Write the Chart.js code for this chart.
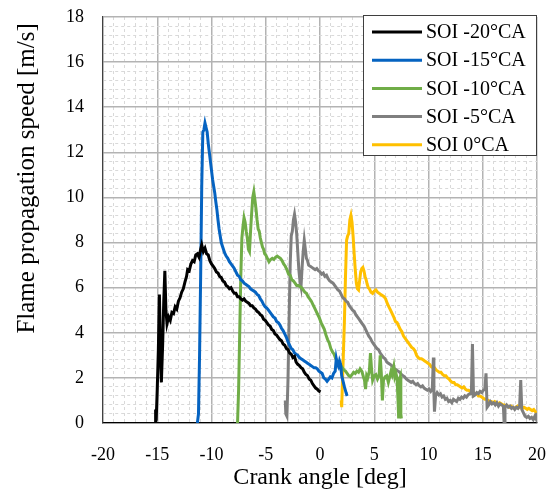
<!DOCTYPE html>
<html>
<head>
<meta charset="utf-8">
<script src="https://cdn.jsdelivr.net/npm/chart.js@4/dist/chart.umd.min.js"></script>
<style>
  html, body { margin: 0; padding: 0; background: #ffffff; }
  #wrap { width: 554px; height: 494px; }
</style>
</head>
<body>
<div id="wrap"><canvas id="chart" width="554" height="494"></canvas></div>
<script>
// Flame propagation speed vs crank angle for five start-of-injection timings

const seriesLabels = ['SOI -20°CA', 'SOI -15°CA', 'SOI -10°CA', 'SOI -5°CA', 'SOI 0°CA'];
const seriesColors = ['#000000', '#0563C1', '#70AD47', '#7F7F7F', '#FFC000'];

const xTickLabels = [-20, -15, -10, -5, 0, 5, 10, 15, 20];
const yTickLabels = [0, 2, 4, 6, 8, 10, 12, 14, 16, 18];

// SOI -20°CA
const soi20X = [-15.2, -15.15, -15.1, -15.0, -14.9, -14.8, -14.7, -14.62, -14.5, -14.4, -14.3, -14.2, -14.1,
  -13.95, -13.8, -13.65, -13.5, -13.35, -13.2, -13.05, -12.9, -12.75, -12.6, -12.45, -12.3, -12.2, -12.05,
  -11.9, -11.75, -11.6, -11.45, -11.3, -11.15, -11.0, -10.9, -10.75, -10.6, -10.45, -10.3, -10.15, -10.0,
  -9.85, -9.7, -9.55, -9.4, -9.25, -9.1, -8.95, -8.8, -8.65, -8.5, -8.35, -8.2, -8.05, -7.9, -7.75, -7.6,
  -7.45, -7.3, -7.15, -7.0, -6.85, -6.7, -6.55, -6.4, -6.25, -6.1, -5.95, -5.8, -5.65, -5.5, -5.35, -5.2,
  -5.05, -4.9, -4.75, -4.6, -4.45, -4.3, -4.15, -4.0, -3.85, -3.7, -3.55, -3.4, -3.25, -3.1, -2.95, -2.8,
  -2.65, -2.5, -2.35, -2.2, -2.05, -1.9, -1.75, -1.6, -1.45, -1.3, -1.15, -1.0, -0.85, -0.7, -0.55, -0.4,
  -0.25, -0.1, 0.05];
const soi20Y = [0.0, 0.6, 0.1, 1.5, 3.2, 5.7, 3.0, 1.8, 3.5, 5.4, 6.75, 5.0, 4.4,
  4.7, 4.55, 4.9, 4.85, 5.15, 5.05, 5.4, 5.55, 5.8, 5.95, 6.25, 6.5, 6.8, 6.75,
  7.05, 7.2, 7.15, 7.45, 7.5, 7.35, 7.7, 7.9, 7.6, 7.75, 7.5, 7.45, 7.2, 7.05,
  6.95, 6.85, 6.7, 6.65, 6.5, 6.45, 6.3, 6.25, 6.1, 6.05, 5.95, 6.0, 5.85, 5.75, 5.75, 5.6,
  5.6, 5.5, 5.45, 5.5, 5.4, 5.35, 5.3, 5.2, 5.2, 5.1, 5.05, 4.95, 4.9, 4.8, 4.75, 4.6,
  4.55, 4.45, 4.35, 4.3, 4.15, 4.1, 3.95, 3.9, 3.8, 3.7, 3.65, 3.5, 3.45, 3.3, 3.25, 3.1,
  3.05, 2.9, 2.95, 2.7, 2.6, 2.55, 2.45, 2.4, 2.25, 2.15, 2.1, 1.95, 1.9, 1.75, 1.65, 1.55,
  1.5, 1.42, 1.38];

// SOI -15°CA
const soi15X = [-11.3, -11.2, -11.1, -11.0, -10.9, -10.8, -10.7, -10.6, -10.5, -10.4, -10.3, -10.2, -10.1,
  -10.0, -9.9, -9.8, -9.7, -9.6, -9.5, -9.4, -9.3, -9.2, -9.1, -9.0, -8.9, -8.8, -8.65, -8.5, -8.35, -8.2,
  -8.05, -7.9, -7.75, -7.6, -7.45, -7.3, -7.15, -7.0, -6.85, -6.7, -6.55, -6.4, -6.25, -6.1, -5.95, -5.8,
  -5.65, -5.5, -5.35, -5.2, -5.05, -4.9, -4.75, -4.6, -4.45, -4.3, -4.15, -4.0, -3.85, -3.7, -3.55, -3.4,
  -3.25, -3.1, -2.95, -2.8, -2.65, -2.5, -2.35, -2.2, -2.05, -1.9, -1.75, -1.6, -1.45, -1.3, -1.15, -1.0,
  -0.85, -0.7, -0.55, -0.4, -0.25, -0.1, 0.05, 0.2, 0.35, 0.5, 0.65, 0.8, 0.95, 1.1, 1.25, 1.4, 1.5, 1.6,
  1.7, 1.8, 1.9, 2.0, 2.1, 2.25, 2.4, 2.5];
const soi15Y = [0.0, 0.4, 3.0, 6.5, 10.5, 12.9, 13.0, 13.3, 13.1, 12.9, 12.4, 12.0, 11.6,
  11.2, 10.8, 10.5, 10.2, 9.8, 9.45, 9.0, 8.6, 8.3, 8.0, 7.85, 7.7, 7.55, 7.4, 7.3, 7.15, 7.05,
  6.95, 6.85, 6.7, 6.55, 6.5, 6.35, 6.3, 6.2, 6.15, 6.1, 6.05, 5.95, 5.9, 5.85, 5.8, 5.7,
  5.65, 5.5, 5.4, 5.25, 5.15, 5.1, 5.0, 4.9, 4.8, 4.7, 4.65, 4.5, 4.45, 4.35, 4.2, 4.1,
  3.95, 3.8, 3.6, 3.45, 3.3, 3.25, 3.1, 3.05, 3.0, 2.9, 2.85, 2.8, 2.75, 2.7, 2.65, 2.6,
  2.55, 2.5, 2.45, 2.45, 2.4, 2.3, 2.25, 2.2, 2.0, 1.95, 1.85, 1.95, 2.05, 2.0, 2.2, 2.3, 2.85, 2.6,
  2.5, 2.75, 2.6, 2.1, 1.9, 1.6, 1.35, 1.2];

// SOI -10°CA
const soi10X = [-7.6, -7.5, -7.4, -7.3, -7.2, -7.1, -7.0, -6.9, -6.8, -6.7, -6.6, -6.5, -6.4, -6.3, -6.2,
  -6.1, -6.0, -5.9, -5.8, -5.7, -5.6, -5.5, -5.4, -5.3, -5.2, -5.1, -5.0, -4.85, -4.7, -4.55, -4.4, -4.25,
  -4.1, -3.95, -3.8, -3.65, -3.5, -3.35, -3.2, -3.05, -2.9, -2.75, -2.6, -2.45, -2.3, -2.15, -2.0, -1.85,
  -1.7, -1.55, -1.4, -1.25, -1.1, -0.95, -0.8, -0.65, -0.5, -0.35, -0.2, -0.05, 0.1, 0.25, 0.4, 0.55, 0.7,
  0.85, 1.0, 1.15, 1.3, 1.45, 1.6, 1.75, 1.9, 2.05, 2.2, 2.35, 2.5, 2.65, 2.8, 2.95, 3.1, 3.25, 3.4, 3.55,
  3.7, 3.85, 4.0, 4.1, 4.2, 4.3, 4.4, 4.55, 4.65, 4.75, 4.85, 5.0, 5.15, 5.3, 5.45, 5.55, 5.65, 5.75, 5.85,
  6.0, 6.15, 6.3, 6.45, 6.55, 6.65, 6.8, 6.9, 7.0, 7.1, 7.2, 7.25, 7.3, 7.4, 7.45, 7.5];
const soi10Y = [0.0, 1.5, 4.0, 6.5, 8.2, 8.7, 9.1, 8.9, 8.5, 8.2, 7.7, 7.6, 8.5, 9.3, 10.0,
  10.25, 9.9, 9.5, 9.0, 8.6, 8.5, 8.2, 8.0, 7.8, 7.7, 7.5, 7.45, 7.3, 7.15, 7.25, 7.3, 7.25,
  7.35, 7.4, 7.35, 7.3, 7.2, 7.05, 6.95, 6.8, 6.6, 6.55, 6.35, 6.3, 6.2, 6.1, 6.1, 6.05,
  6.0, 5.9, 5.8, 5.75, 5.6, 5.5, 5.4, 5.25, 5.1, 4.95, 4.8, 4.65, 4.45, 4.3, 4.15, 3.9, 3.7,
  3.55, 3.3, 3.15, 3.05, 2.85, 2.7, 2.7, 2.55, 2.45, 2.35, 2.3, 2.2, 2.1, 2.05, 2.15, 2.25, 2.2, 2.3, 2.25,
  2.4, 2.3, 2.05, 1.9, 1.5, 2.1, 2.0, 2.3, 3.1, 2.4, 1.9, 2.1, 2.15, 1.95, 2.1, 3.0, 2.2, 1.0, 1.9,
  2.05, 2.1, 1.8, 2.1, 2.3, 2.15, 2.5, 2.05, 2.2, 2.0, 0.9, 0.2, 1.9, 2.05, 0.4, 0.2];

// SOI -5°CA
const soi5X = [-3.2, -3.15, -3.05, -2.95, -2.85, -2.75, -2.65, -2.55, -2.45, -2.35, -2.25, -2.15, -2.05,
  -1.95, -1.85, -1.75, -1.65, -1.55, -1.45, -1.35, -1.25, -1.15, -1.05, -0.9, -0.75, -0.6, -0.45, -0.3,
  -0.15, 0.0, 0.15, 0.3, 0.45, 0.6, 0.75, 0.9, 1.05, 1.2, 1.35, 1.5, 1.65, 1.8, 1.95, 2.1, 2.25, 2.4, 2.55,
  2.7, 2.85, 3.0, 3.15, 3.3, 3.45, 3.6, 3.75, 3.9, 4.05, 4.2, 4.35, 4.5, 4.65, 4.8, 4.95, 5.1, 5.25, 5.4,
  5.55, 5.7, 5.85, 6.0, 6.15, 6.3, 6.45, 6.6, 6.75, 6.9, 7.05, 7.2, 7.35, 7.5, 7.65, 7.8, 7.95, 8.1, 8.25,
  8.4, 8.55, 8.7, 8.85, 9.0, 9.15, 9.3, 9.45, 9.6, 9.75, 9.9, 10.05, 10.2, 10.35, 10.45, 10.5, 10.55, 10.65,
  10.8, 10.95, 11.1, 11.25, 11.4, 11.55, 11.7, 11.85, 12.0, 12.15, 12.3, 12.45, 12.6, 12.75, 12.9, 13.05,
  13.2, 13.35, 13.5, 13.65, 13.8, 13.95, 14.05, 14.15, 14.3, 14.45, 14.6, 14.75, 14.9, 15.05, 15.2, 15.3,
  15.4, 15.55, 15.7, 15.85, 16.0, 16.15, 16.3, 16.45, 16.6, 16.75, 16.9, 16.97, 17.05, 17.2, 17.35, 17.5,
  17.65, 17.8, 17.95, 18.1, 18.25, 18.4, 18.5, 18.6, 18.75, 18.9, 19.05, 19.2, 19.35, 19.5, 19.65, 19.8,
  19.9, 20.0];
const soi5Y = [1.0, 0.4, 0.3, 1.9, 4.5, 7.0, 8.3, 8.5, 9.0, 9.25, 8.9, 8.4, 7.6,
  6.8, 6.3, 6.05, 6.9, 7.6, 8.1, 7.7, 7.3, 7.2, 7.0, 6.95, 6.9, 6.85, 6.8, 6.85,
  6.75, 6.7, 6.6, 6.65, 6.5, 6.55, 6.4, 6.3, 6.25, 6.2, 6.1, 6.0, 5.9, 5.85, 5.7, 5.55, 5.5, 5.4, 5.35,
  5.2, 5.1, 5.0, 4.95, 4.8, 4.7, 4.6, 4.5, 4.4, 4.3, 4.15, 4.0, 3.85, 3.75, 3.6, 3.5, 3.4, 3.3, 3.25,
  3.1, 3.0, 2.9, 2.85, 2.7, 2.65, 2.6, 2.55, 2.45, 2.4, 2.35, 2.3, 2.25, 2.15, 2.1, 2.05, 1.95, 1.9, 1.85,
  1.8, 1.85, 1.75, 1.7, 1.75, 1.65, 1.6, 1.65, 1.55, 1.5, 1.45, 1.5, 1.4, 1.5, 2.9, 1.3, 0.5, 1.2,
  1.35, 1.25, 1.3, 1.15, 1.2, 1.05, 1.1, 0.95, 1.0, 0.9, 1.05, 1.0, 0.95, 1.1, 1.05, 1.15,
  1.1, 1.2, 1.15, 1.25, 1.3, 1.3, 3.5, 1.2, 1.25, 1.35, 1.3, 1.4, 1.35, 1.45, 1.5, 2.2,
  0.7, 0.8, 0.95, 0.85, 0.9, 0.8, 0.9, 0.75, 0.85, 0.8, 0.75, 0.0, 0.7, 0.8, 0.7, 0.75,
  0.65, 0.7, 0.6, 0.7, 0.65, 0.75, 1.9, 0.6, 0.45, 0.3, 0.25, 0.3, 0.2, 0.25, 0.15, 0.3,
  0.2, 0.45];

// SOI 0°CA
const soi0X = [1.95, 2.0, 2.05, 2.15, 2.25, 2.35, 2.45, 2.55, 2.65, 2.75, 2.85, 2.95, 3.05, 3.15, 3.25,
  3.35, 3.45, 3.55, 3.65, 3.75, 3.85, 3.95, 4.05, 4.15, 4.25, 4.35, 4.45, 4.55, 4.7, 4.85, 5.0, 5.15, 5.3,
  5.45, 5.6, 5.75, 5.9, 6.05, 6.2, 6.35, 6.5, 6.65, 6.8, 6.95, 7.1, 7.25, 7.4, 7.55, 7.7, 7.85, 8.0, 8.15,
  8.3, 8.45, 8.6, 8.75, 8.9, 9.05, 9.2, 9.35, 9.5, 9.65, 9.8, 9.95, 10.1, 10.25, 10.4, 10.55, 10.7, 10.85,
  11.0, 11.15, 11.3, 11.45, 11.6, 11.75, 11.9, 12.05, 12.2, 12.35, 12.5, 12.65, 12.8, 12.95, 13.1, 13.25,
  13.4, 13.55, 13.7, 13.85, 14.0, 14.15, 14.3, 14.45, 14.6, 14.75, 14.9, 15.05, 15.2, 15.35, 15.5, 15.65,
  15.8, 15.95, 16.1, 16.25, 16.4, 16.55, 16.7, 16.85, 17.0, 17.15, 17.3, 17.45, 17.6, 17.75, 17.9, 18.05,
  18.2, 18.35, 18.5, 18.65, 18.8, 18.95, 19.1, 19.25, 19.4, 19.55, 19.7, 19.85, 20.0];
const soi0Y = [1.0, 0.7, 1.5, 3.0, 4.5, 6.5, 8.1, 8.3, 8.4, 9.0, 9.2, 8.9, 8.3, 7.5, 6.8,
  6.2, 5.95, 5.9, 6.3, 6.7, 6.85, 6.9, 6.75, 6.5, 6.35, 6.15, 6.0, 5.95, 5.8, 5.75, 5.85, 5.9, 5.8,
  5.75, 5.7, 5.65, 5.6, 5.5, 5.3, 5.15, 5.0, 4.85, 4.7, 4.5, 4.45, 4.3, 4.15, 4.05, 3.85, 3.75, 3.65, 3.55,
  3.45, 3.35, 3.3, 3.2, 3.0, 2.9, 2.85, 2.85, 2.8, 2.75, 2.7, 2.65, 2.6, 2.5, 2.45, 2.45, 2.35, 2.3,
  2.25, 2.25, 2.15, 2.1, 2.1, 2.0, 1.95, 1.85, 1.8, 1.8, 1.7, 1.7, 1.65, 1.6, 1.55, 1.6,
  1.5, 1.45, 1.45, 1.4, 1.4, 1.35, 1.3, 1.3, 1.2, 1.2, 1.15, 1.1, 1.05, 1.05, 1.0, 0.95,
  0.95, 0.9, 0.95, 0.9, 0.85, 0.9, 0.85, 0.8, 0.8, 0.75, 0.75, 0.7, 0.75, 0.7, 0.65, 0.7,
  0.75, 0.7, 0.7, 0.65, 0.7, 0.65, 0.6, 0.65, 0.6, 0.55, 0.6, 0.5, 0.4];

const seriesX = [soi20X, soi15X, soi10X, soi5X, soi0X];
const seriesY = [soi20Y, soi15Y, soi10Y, soi5Y, soi0Y];

const serif = "'Liberation Serif', 'DejaVu Serif', serif";

const datasets = seriesLabels.map((label, i) => ({
  label: label,
  data: seriesX[i].map((x, k) => ({ x: x, y: seriesY[i][k] })),
  borderColor: seriesColors[i],
  backgroundColor: seriesColors[i],
  borderWidth: 3,
  pointRadius: 0,
  tension: 0,
  fill: false,
  showLine: true
}));

// Framed legend in the upper right of the plot area
const boxLegend = {
  id: 'boxLegend',
  afterDraw(chart) {
    const ctx = chart.ctx;
    const area = chart.chartArea;
    const w = 174, h = 141;
    const left = area.right - w, top = area.top - 2;
    ctx.save();
    ctx.fillStyle = '#ffffff';
    ctx.fillRect(left, top, w, h);
    ctx.strokeStyle = '#3f3f3f';
    ctx.lineWidth = 1;
    ctx.strokeRect(left + 0.5, top + 0.5, w - 1, h - 1);
    ctx.font = '20px ' + serif;
    ctx.textBaseline = 'middle';
    ctx.textAlign = 'left';
    chart.data.datasets.forEach((ds, i) => {
      const y = top + 17 + i * 28.2;
      ctx.strokeStyle = ds.borderColor;
      ctx.lineWidth = 3;
      ctx.beginPath();
      ctx.moveTo(left + 9, y);
      ctx.lineTo(left + 59, y);
      ctx.stroke();
      ctx.fillStyle = '#000000';
      ctx.fillText(ds.label, left + 63, y + 1);
    });
    ctx.restore();
  }
};

const isMultiple = (v, step) => Math.abs(v / step - Math.round(v / step)) < 1e-6;

new Chart(document.getElementById('chart'), {
  type: 'scatter',
  data: { datasets: datasets },
  plugins: [boxLegend],
  options: {
    responsive: false,
    animation: false,
    devicePixelRatio: 1,
    layout: { padding: { top: 17, right: 17, left: 0, bottom: 0 } },
    plugins: { legend: { display: false }, tooltip: { enabled: false } },
    scales: {
      x: {
        type: 'linear',
        min: -20, max: 20,
        afterFit: s => { s.height = 71; s.paddingLeft = 0; s.paddingRight = 0; },
        ticks: {
          stepSize: 1, autoSkip: false, maxRotation: 0, padding: 21,
          color: '#000000', font: { family: serif, size: 18 },
          callback: v => (xTickLabels.includes(v) ? String(v) : '')
        },
        grid: {
          drawTicks: false,
          color: c => (c.tick && isMultiple(c.tick.value, 5) ? '#b3b3b3' : '#d9d9d9'),
          lineWidth: c => (c.tick && isMultiple(c.tick.value, 5) ? 1.5 : 1)
        },
        border: {
          color: '#000000', width: 1.2,
          dash: c => (c.tick && !isMultiple(c.tick.value, 5) ? [3, 3] : [])
        },
        title: {
          display: true, text: 'Crank angle [deg]', color: '#000000',
          font: { family: serif, size: 24 }, padding: { top: 0, bottom: 2 }
        }
      },
      y: {
        type: 'linear',
        min: 0, max: 18,
        afterFit: s => { s.width = 103; s.paddingTop = 0; s.paddingBottom = 0; },
        ticks: {
          stepSize: 0.4, autoSkip: false, padding: 19,
          color: '#000000', font: { family: serif, size: 18 },
          callback: v => {
            const r = Math.round(v);
            return (Math.abs(v - r) < 1e-6 && yTickLabels.includes(r)) ? String(r) : '';
          }
        },
        grid: {
          drawTicks: false,
          color: c => (c.tick && isMultiple(c.tick.value, 2) ? '#b3b3b3' : '#d9d9d9'),
          lineWidth: c => (c.tick && isMultiple(c.tick.value, 2) ? 1.5 : 1)
        },
        border: {
          color: '#404040', width: 1.2,
          dash: c => (c.tick && !isMultiple(c.tick.value, 2) ? [3, 3] : [])
        },
        title: {
          display: true, text: 'Flame propagation speed [m/s] ', align: 'end', color: '#000000',
          font: { family: serif, size: 25 }, padding: { top: 12, bottom: 0 }
        }
      }
    }
  }
});
</script>
</body>
</html>
